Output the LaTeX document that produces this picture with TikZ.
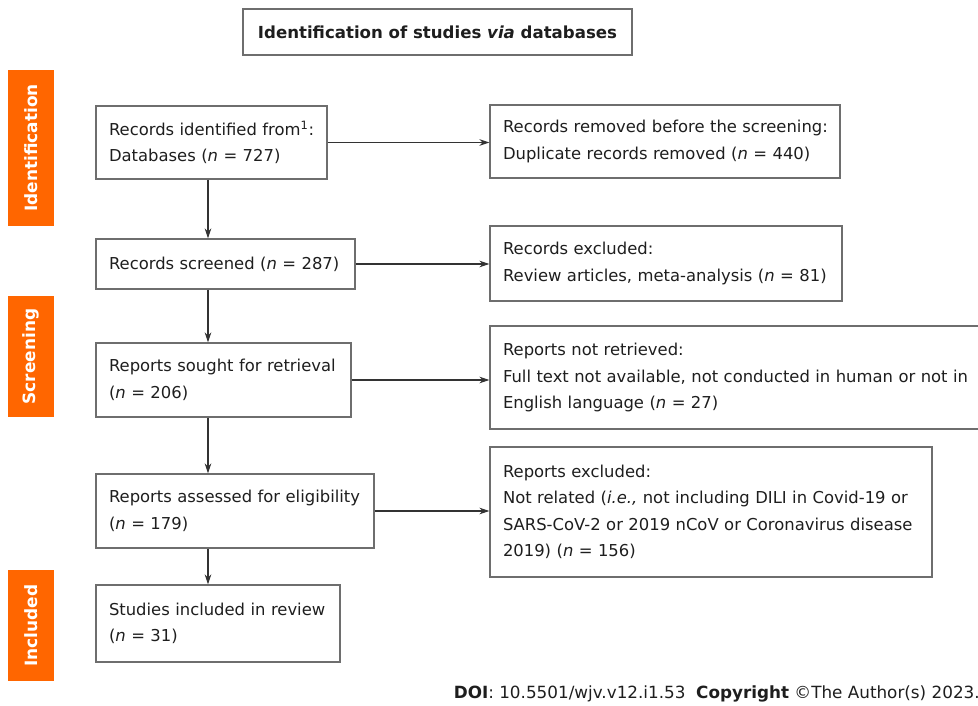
\documentclass[tikz,border=0pt]{standalone}
\usepackage{fontspec}
\setmainfont{DejaVu Sans}
\usetikzlibrary{arrows.meta}
\definecolor{boxgray}{HTML}{6E6E6E}
\definecolor{linegray}{HTML}{333333}
\definecolor{txt}{HTML}{1E1E1E}
\definecolor{orng}{HTML}{FF6600}
\newcommand{\oneline}[1]{\mbox{#1}}
\begin{document}
\begin{tikzpicture}[x=0.75pt,y=-0.75pt,
  font=\fontsize{12.3pt}{19.9pt}\selectfont,
  box/.style={draw=boxgray,line width=0.9pt,inner xsep=0pt,inner ysep=0pt,align=left,text=txt},
  side/.style={fill=orng,inner sep=0pt},
  sidetext/.style={rotate=90,text=white,font=\fontsize{12.7pt}{14pt}\selectfont\bfseries},
  arr/.style={draw=linegray,line width=0.8pt,-{Stealth[length=7.5pt,width=5pt]}}]
\useasboundingbox (0,0) rectangle (978,706);
% title
\node[box,align=center,minimum width=291.75pt,minimum height=34.5pt,font=\fontsize{12.45pt}{14pt}\selectfont\bfseries] (title) at (437.5,32) {Identification of studies \textit{via} databases};
% side bars
\node[side,minimum width=34.5pt,minimum height=117pt] (s1) at (31,148) {};
\node[sidetext] (s1t) at (s1.center) {Identification};
\node[side,minimum width=34.5pt,minimum height=90.75pt] (s2) at (31,356.5) {};
\node[sidetext] (s2t) at (s2.center) {Screening};
\node[side,minimum width=34.5pt,minimum height=83.25pt] (s3) at (31,625.5) {};
\node[sidetext] (s3t) at (s3.center) {Included};
% left boxes
\node[box,minimum width=173.25pt,minimum height=54.75pt,text width=153.75pt] (b1) at (211.5,142.5) {\oneline{Records identified from\textsuperscript{1}:}\\\oneline{Databases (\textit{n} = 727)}};
\node[box,minimum width=194.25pt,minimum height=37.5pt,text width=174.75pt] (b2) at (225.5,264) {\oneline{Records screened (\textit{n} = 287)}};
\node[box,minimum width=191.25pt,minimum height=55.5pt,text width=171.75pt] (b3) at (223.5,380) {\oneline{Reports sought for retrieval}\\\oneline{(\textit{n} = 206)}};
\node[box,minimum width=208.5pt,minimum height=55.5pt,text width=189pt] (b4) at (235,511) {\oneline{Reports assessed for eligibility}\\\oneline{(\textit{n} = 179)}};
\node[box,minimum width=183pt,minimum height=57.75pt,text width=163.5pt] (b5) at (218,623.5) {\oneline{Studies included in review}\\\oneline{(\textit{n} = 31)}};
% right boxes
\node[box,minimum width=262.5pt,minimum height=54.75pt,text width=243pt] (r1) at (665,141.5) {\oneline{Records removed before the screening:}\\\oneline{Duplicate records removed (\textit{n} = 440)}};
\node[box,minimum width=264pt,minimum height=56.25pt,text width=244.5pt] (r2) at (666,263.5) {\oneline{Records excluded:}\\\oneline{Review articles, meta-analysis (\textit{n} = 81)}};
\node[box,minimum width=382.5pt,minimum height=77.25pt,text width=363pt] (r3) at (745,377.5) {\oneline{Reports not retrieved:}\\\oneline{Full text not available, not conducted in human or not in}\\\oneline{English language (\textit{n} = 27)}};
\node[box,minimum width=331.5pt,minimum height=97.5pt,text width=312pt] (r4) at (711,512) {\oneline{Reports excluded:}\\\oneline{Not related (\textit{i.e.,} not including DILI in Covid-19 or}\\\oneline{SARS-CoV-2 or 2019 nCoV or Coronavirus disease}\\\oneline{2019) (\textit{n} = 156)}};
% arrows
\coordinate (ax) at (208,0);
\draw[arr] (b1.south -| ax) -- (b2.north -| ax);
\draw[arr] (b2.south -| ax) -- (b3.north -| ax);
\draw[arr] (b3.south -| ax) -- (b4.north -| ax);
\draw[arr] (b4.south -| ax) -- (b5.north -| ax);
\draw[arr] (b1.east) -- (b1.east -| r1.west);
\draw[arr] (b2.east) -- (b2.east -| r2.west);
\draw[arr] (b3.east) -- (b3.east -| r3.west);
\draw[arr] (b4.east) -- (b4.east -| r4.west);
% footer
\node[anchor=east,inner sep=0pt,text=txt,font=\fontsize{12.6pt}{14pt}\selectfont] (foot) at (980,694) {\textbf{DOI}: 10.5501/wjv.v12.i1.53\ \ \textbf{Copyright} ©The Author(s) 2023.};
\end{tikzpicture}
\end{document}
